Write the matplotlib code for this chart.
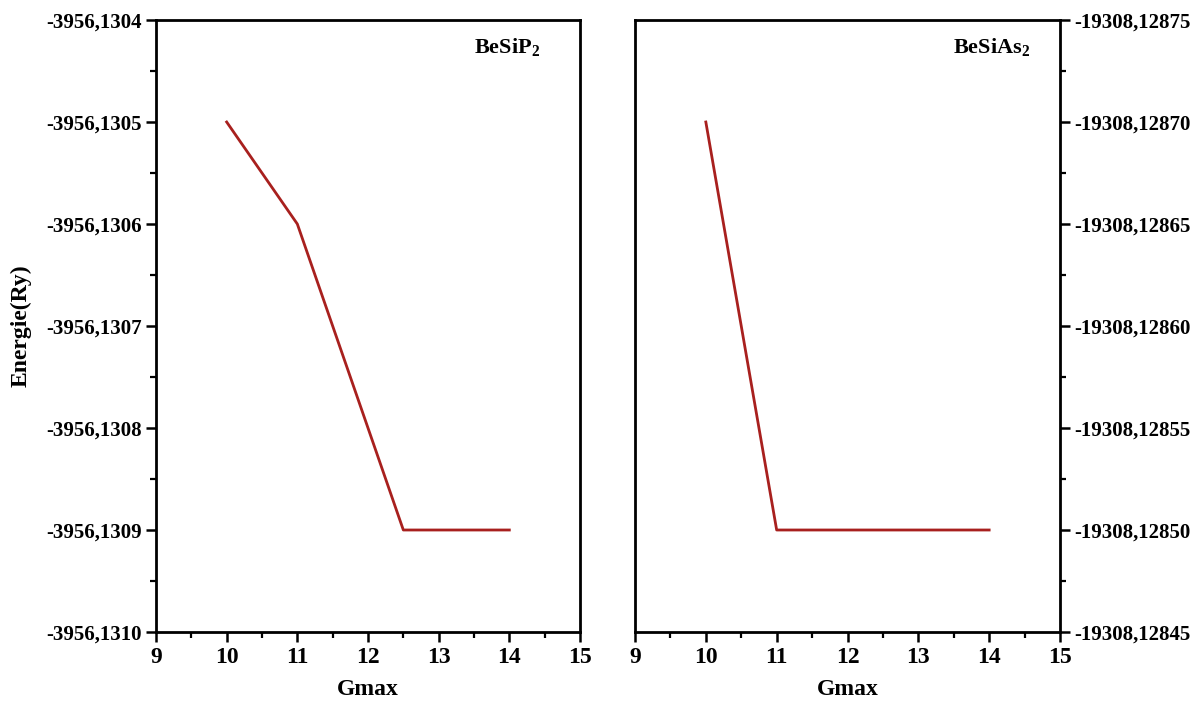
import matplotlib

matplotlib.use("Agg")
import matplotlib.pyplot as plt
import numpy as np
from matplotlib.ticker import MultipleLocator, FuncFormatter

# Data
gmax_p = [10, 11, 12.5, 14]
energy_p = [-3956.1305, -3956.1306, -3956.1309, -3956.1309]
gmax_as = [10, 11, 14]
energy_as = [-19308.12870, -19308.12850, -19308.12850]
labels = ["BeSiP$_{\\mathbf{2}}$", "BeSiAs$_{\\mathbf{2}}$"]

plt.rcParams["font.family"] = ["Liberation Serif", "DejaVu Serif"]
plt.rcParams["font.weight"] = "bold"
plt.rcParams["mathtext.fontset"] = "custom"
plt.rcParams["mathtext.rm"] = "Liberation Serif:bold"
plt.rcParams["mathtext.bf"] = "Liberation Serif:bold"

W, H = 1197, 704
fig = plt.figure(figsize=(W / 100, H / 100), dpi=100)
ax1 = fig.add_axes([156 / W, 1 - 632 / H, 424 / W, 612 / H])
ax2 = fig.add_axes([635 / W, 1 - 632 / H, 425 / W, 612 / H])

line_color = "#a8201e"


def comma_fmt(decimals):
    return FuncFormatter(lambda v, pos: f"{v:.{decimals}f}".replace(".", ","))


ax1.plot(gmax_p, energy_p, color=line_color, lw=2)
ax2.plot(gmax_as, energy_as, color=line_color, lw=2)

# left panel: normal orientation
ax1.set_yticks(np.linspace(-3956.1310, -3956.1304, 7))
ax1.set_yticks(np.linspace(-3956.1310, -3956.1304, 13), minor=True)
ax1.set_ylim(-3956.1310, -3956.1304)
ax1.yaxis.set_major_formatter(comma_fmt(4))
ax1.set_ylabel("Energie(Ry)", fontsize=17, fontweight="bold", labelpad=10)

# right panel: axis runs the other way (as in the original)
ax2.set_yticks(np.linspace(-19308.12875, -19308.12845, 7))
ax2.set_yticks(np.linspace(-19308.12875, -19308.12845, 13), minor=True)
ax2.set_ylim(-19308.12845, -19308.12875)
ax2.yaxis.set_major_formatter(comma_fmt(5))
ax2.yaxis.tick_right()

for ax, lab, xt in [(ax1, labels[0], 0.905), (ax2, labels[1], 0.93)]:
    ax.set_xlim(9, 15)
    ax.xaxis.set_major_locator(MultipleLocator(1))
    ax.xaxis.set_minor_locator(MultipleLocator(0.5))
    ax.set_xlabel("Gmax", fontsize=17, fontweight="bold", labelpad=8)
    ax.tick_params(which="major", direction="out", length=7, width=1.8, labelsize=15)
    ax.tick_params(axis="x", labelsize=17)
    ax.tick_params(which="minor", direction="out", length=4, width=1.6)
    ax.tick_params(axis="x", top=False, which="both")
    for sp in ax.spines.values():
        sp.set_linewidth(2)
    ax.text(xt, 0.955, lab, transform=ax.transAxes, ha="right", va="center",
            fontsize=16, fontweight="bold")

ax1.tick_params(axis="y", which="both", right=False)
ax2.tick_params(axis="y", which="both", left=False)

fig.savefig("out.png", dpi=100)
